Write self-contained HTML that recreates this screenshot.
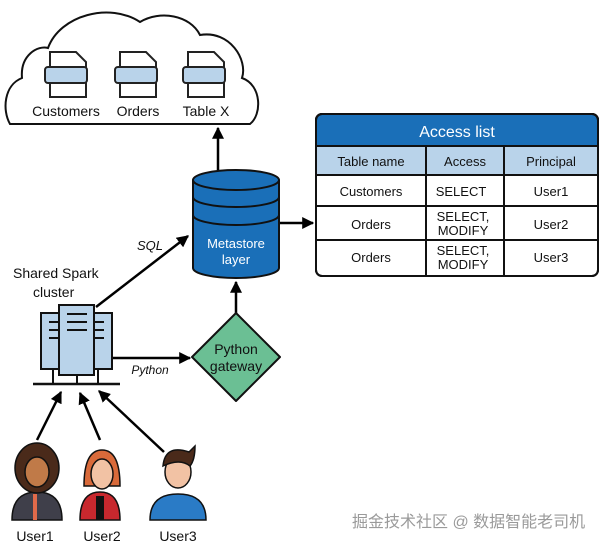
<!DOCTYPE html>
<html><head><meta charset="utf-8"><style>
body{margin:0;background:#fff;width:600px;height:546px;overflow:hidden;font-family:"Liberation Sans","Noto Sans CJK SC",sans-serif;}
</style></head><body>
<svg width="600" height="546" viewBox="0 0 600 546" xmlns="http://www.w3.org/2000/svg" font-family="Liberation Sans, Noto Sans CJK SC, sans-serif">
<defs>
<marker id="a" viewBox="0 0 10 10" refX="9" refY="5" markerWidth="12" markerHeight="12" orient="auto" markerUnits="userSpaceOnUse"><path d="M0,0 L10,5 L0,10 z" fill="#000"/></marker></defs>
<!-- cloud -->
<path d="M10,124 C2,110 4,85 22,78 C20,55 38,45 48,48 C60,15 110,2 140,22 C160,10 190,15 200,35 C230,30 248,60 242,78 C262,85 262,115 250,124 Z" fill="#fff" stroke="#111" stroke-width="2"/>
<g stroke="#222" stroke-width="2">
<g fill="#fff"><path d="M50,52 h26 l10,10 v35 h-36 z"/><path d="M120,52 h26 l10,10 v35 h-36 z"/><path d="M188,52 h26 l10,10 v35 h-36 z"/></g>
<g fill="#b9d3ea"><rect x="45" y="67" width="42" height="16" rx="3"/><rect x="115" y="67" width="42" height="16" rx="3"/><rect x="183" y="67" width="42" height="16" rx="3"/></g>
</g>
<g font-size="14" fill="#111" text-anchor="middle"><text x="66" y="116">Customers</text><text x="138" y="116">Orders</text><text x="206" y="116">Table X</text></g>
<!-- cylinder -->
<g stroke="#111" stroke-width="2">
<path d="M193,180 v88 a43,10 0 0 0 86,0 v-88" fill="#1a6fb8"/>
<path d="M193,197 a43,10 0 0 0 86,0 M193,215 a43,10 0 0 0 86,0" fill="none"/>
<ellipse cx="236" cy="180" rx="43" ry="10" fill="#1a6fb8"/>
</g>
<text x="236" y="248" font-size="13" fill="#fff" text-anchor="middle">Metastore</text>
<text x="236" y="264" font-size="13" fill="#fff" text-anchor="middle">layer</text>
<!-- arrows -->
<g stroke="#000" stroke-width="2.5" fill="none">
<line x1="218" y1="170" x2="218" y2="128" marker-end="url(#a)"/>
<line x1="280" y1="223" x2="313" y2="223" marker-end="url(#a)"/>
<line x1="236" y1="315" x2="236" y2="282" marker-end="url(#a)"/>
<line x1="96" y1="307" x2="188" y2="236" marker-end="url(#a)"/>
<line x1="113" y1="358" x2="190" y2="358" marker-end="url(#a)"/>
<line x1="37" y1="440" x2="61" y2="392" marker-end="url(#a)"/>
<line x1="100" y1="440" x2="80" y2="393" marker-end="url(#a)"/>
<line x1="164" y1="452" x2="99" y2="391" marker-end="url(#a)"/>
</g>
<text x="150" y="250" font-size="13" font-style="italic" fill="#111" text-anchor="middle">SQL</text>
<text x="150" y="374" font-size="12" font-style="italic" fill="#111" text-anchor="middle">Python</text>
<text x="13" y="278" font-size="14" fill="#111">Shared Spark</text>
<text x="33" y="297" font-size="14" fill="#111">cluster</text>
<!-- diamond -->
<path d="M236,313 L280,357 L236,401 L192,357 Z" fill="#6bbf94" stroke="#111" stroke-width="2" stroke-linejoin="round"/>
<text x="236" y="354" font-size="14" fill="#111" text-anchor="middle">Python</text>
<text x="236" y="371" font-size="14" fill="#111" text-anchor="middle">gateway</text>
<!-- server -->
<g stroke="#111" stroke-width="2">
<rect x="41" y="313" width="22" height="56" fill="#b9d3ea"/>
<rect x="90" y="313" width="22" height="56" fill="#b9d3ea"/>
<rect x="59" y="305" width="35" height="70" fill="#b9d3ea"/>
<path d="M49,322h10 M49,330h10 M49,338h10 M94,322h10 M94,330h10 M94,338h10 M67,314h20 M67,322h20 M67,330h20 M53,369v15 M77,375v9 M98,369v15"/>
<line x1="33" y1="384" x2="120" y2="384" stroke-width="2.5"/>
</g>
<!-- users -->
<g stroke="#111" stroke-width="1.5">
<path d="M12,520 q0,-28 25,-28 q25,0 25,28 z" fill="#3f3f4a"/>
<rect x="33" y="494" width="4" height="26" fill="#e06a4a" stroke="none"/>
<ellipse cx="37" cy="468" rx="22" ry="25" fill="#4a2a1a"/>
<ellipse cx="37" cy="472" rx="12" ry="15" fill="#c07a48"/>
<path d="M80,520 q0,-28 20,-28 q20,0 20,28 z" fill="#c8282e"/>
<rect x="96" y="496" width="8" height="24" fill="#111" stroke="none"/>
<path d="M84,486 q0,-36 18,-36 q18,0 18,36 z" fill="#d96a3a"/>
<ellipse cx="102" cy="474" rx="11" ry="15" fill="#f2c2a4"/>
<path d="M150,520 q0,-26 28,-26 q28,0 28,26 z" fill="#2a7bc6"/>
<ellipse cx="178" cy="472" rx="13" ry="16" fill="#f2c2a4"/>
<path d="M163,466 q2,-22 26,-14 l6,-6 q0,14 -5,20 q-10,-8 -27,0 z" fill="#4a2a1a"/>
</g>
<g font-size="14" fill="#111" text-anchor="middle"><text x="35" y="541">User1</text><text x="102" y="541">User2</text><text x="178" y="541">User3</text></g>
<!-- table -->
<g stroke="#111" stroke-width="2">
<rect x="316" y="114" width="282" height="162" rx="6" fill="#fff"/>
<path d="M316,146 v-26 a6,6 0 0 1 6,-6 h270 a6,6 0 0 1 6,6 v26 z" fill="#1a6fb8"/>
<rect x="316" y="146" width="282" height="29" fill="#b9d3ea"/>
<path d="M316,206h282 M316,240h282 M426,146v130 M504,146v130" fill="none"/>
<rect x="316" y="114" width="282" height="162" rx="6" fill="none"/>
</g>
<text x="457" y="137" font-size="16" fill="#fff" text-anchor="middle">Access list</text>
<g font-size="13" fill="#111" text-anchor="middle">
<text x="371" y="166">Table name</text><text x="465" y="166">Access</text><text x="551" y="166">Principal</text>
<text x="371" y="196">Customers</text><text x="461" y="196">SELECT</text><text x="551" y="196">User1</text>
<text x="371" y="229">Orders</text><text x="463" y="221">SELECT,</text><text x="463" y="235">MODIFY</text><text x="551" y="229">User2</text>
<text x="371" y="262">Orders</text><text x="463" y="255">SELECT,</text><text x="463" y="269">MODIFY</text><text x="551" y="262">User3</text>
</g>
<text x="352" y="527" font-size="16" fill="#9a9a9a">掘金技术社区 @ 数据智能老司机</text>
</svg>
</body></html>
